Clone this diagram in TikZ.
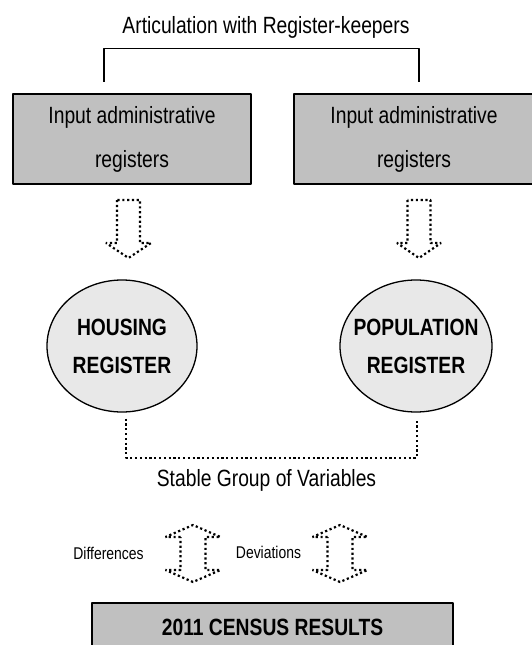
\documentclass[tikz,border=0pt]{standalone}
\usepackage[x11names, svgnames, rgb]{xcolor}
\usepackage{fontspec}
\setmainfont[FakeStretch=0.82]{Liberation Sans}
\usepackage{tikz}
\usetikzlibrary{shapes}
\definecolor{boxgray}{HTML}{C0C0C0}
\definecolor{ovalgray}{HTML}{E8E8E8}

\begin{document}
\begin{tikzpicture}[x=1pt,y=-1pt,line join=bevel,
  inbox/.style={draw,line width=2.8pt,fill=boxgray,rectangle,inner sep=0pt,
    minimum width=240pt,minimum height=90pt,align=center,
    font=\fontsize{23.5}{44}\selectfont},
  reg/.style={draw,line width=1.3pt,fill=ovalgray,ellipse,inner xsep=-15pt,
    inner ysep=0pt,minimum height=132pt,align=center,
    font=\bfseries\fontsize{23.5}{38}\selectfont},
  plain/.style={inner sep=0pt,font=\fontsize{23.5}{26}\selectfont},
  small/.style={inner sep=0pt,font=\fontsize{17}{19}\selectfont},
  dotline/.style={line width=2.2pt,dash pattern=on 2.2pt off 2.6pt},
]
\clip (0,0) rectangle (532,645);
%%
\begin{scope}
  \node (title) at (266,27) [plain] {Articulation with Register-keepers};
  \node (inL) at (132,139) [inbox,minimum width=238pt] {Input administrative\\registers};
  \node (inR) at (414,139) [inbox] {Input administrative\\registers};
  \node (hous) at (122,346) [reg,minimum width=150pt] {HOUSING\\REGISTER};
  \node (pop) at (416,346) [reg,minimum width=152pt] {POPULATION\\REGISTER};
  \node (stable) at (266.5,480) [plain] {Stable Group of Variables};
  \node (diff) at (108.5,553) [small] {Differences};
  \node (dev) at (268.5,552) [small] {Deviations};
  \node (census) at (272.5,627) [inbox,minimum width=361pt,minimum height=48pt,
    font=\bfseries\fontsize{23.5}{26}\selectfont] {2011 CENSUS RESULTS};
\end{scope}
\begin{scope}
  \draw [line width=1.3pt] ([xshift=-28pt,yshift=11pt]inL.north) -- ++(0,-33)
    -| ([xshift=5pt,yshift=11pt]inR.north);
  \draw [dotline] ([xshift=4pt,yshift=-6pt]hous.south) -- ++(0,39)
    -| ([xshift=1pt,yshift=-6pt]pop.south);
\end{scope}
%
\begin{scope}[dotline]
  \draw (117,200) -- (117,243) -- (106,243) -- (128.5,258) -- (151,243)
    -- (140,243) -- (140,200) -- cycle;
  \draw (407.5,200) -- (407.5,243) -- (397,243) -- (419,258) -- (441,243)
    -- (430.5,243) -- (430.5,200) -- cycle;
  \draw (180.5,537) -- (165.5,537) -- (193,525) -- (220.5,537) -- (205.5,537)
    -- (205.5,570) -- (220.5,570) -- (193,582) -- (165.5,570) -- (180.5,570) -- cycle;
  \draw (327.5,537) -- (312.5,537) -- (340,525) -- (367.5,537) -- (352.5,537)
    -- (352.5,570) -- (367.5,570) -- (340,582) -- (312.5,570) -- (327.5,570) -- cycle;
\end{scope}
%
\end{tikzpicture}
\end{document}
